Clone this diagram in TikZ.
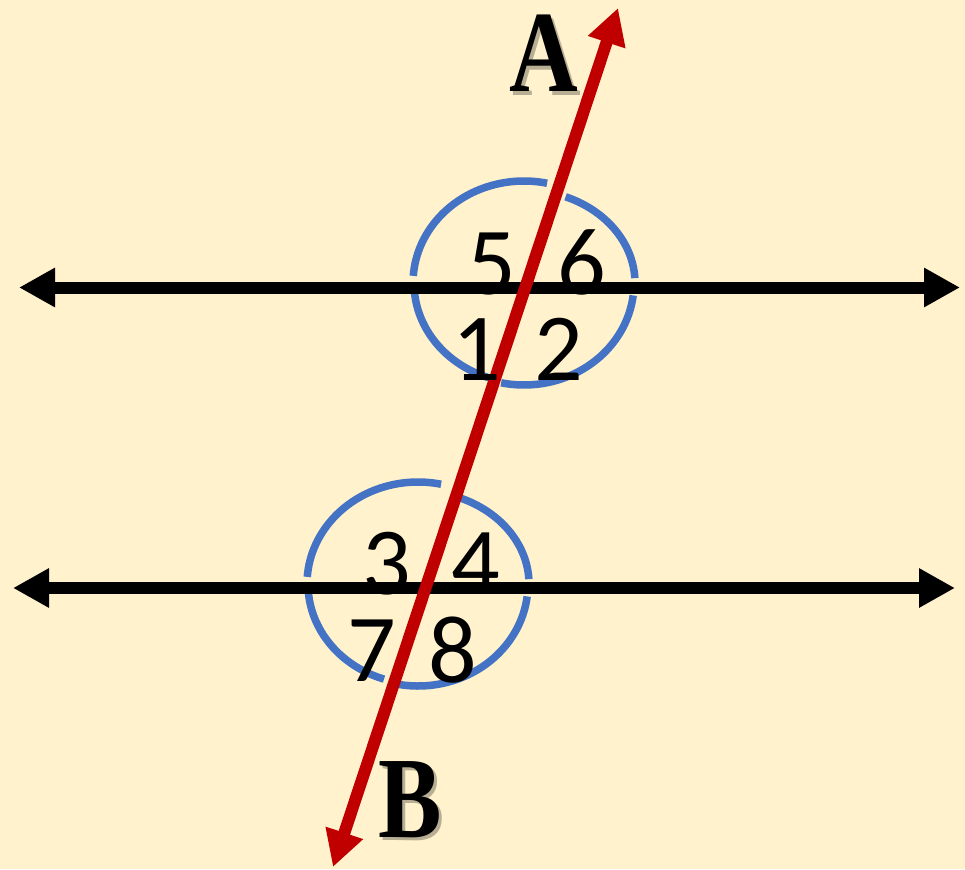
\documentclass[tikz,border=0pt]{standalone}
\usepackage{fontspec}
\usetikzlibrary{arrows.meta}
\newfontfamily\digitfont{Carlito}
\newfontfamily\letterfont{Liberation Serif}
\definecolor{bgyellow}{HTML}{FFF2CC}
\definecolor{arcblue}{HTML}{4472C4}
\definecolor{transred}{HTML}{C00000}
\colorlet{shadowgray}{black!28!bgyellow}
\newcommand\shadowed[1]{\makebox[0pt][l]{\kern3.5pt\raisebox{-3.5pt}{\textcolor{shadowgray}{#1}}}#1}
\tikzset{
  dblarrow/.style={line width=12pt,{Triangle[length=36pt,width=37pt]}-{Triangle[length=36pt,width=37pt]}},
  parline/.style={dblarrow,draw=black},
  transline/.style={dblarrow,draw=transred},
  anglearc/.style={draw=arcblue,line width=7.5pt},
  digit/.style={anchor=base,inner sep=0pt,font=\digitfont\fontsize{96}{96}\selectfont},
  bigletter/.style={anchor=base,inner sep=0pt,xscale=0.82,font=\letterfont\bfseries\fontsize{116}{116}\selectfont}
}
\begin{document}
\begin{tikzpicture}[x=1pt,y=1pt]
\fill[bgyellow] (0,0) rectangle (965,-869);
\useasboundingbox (0,0) rectangle (965,-869);
% centres of the angle marks
\coordinate (c1) at (524,-283);
\coordinate (c2) at (418,-584);
% angle arcs
\foreach \c in {c1,c2}{
  \begin{scope}[shift={(\c)}]
    \draw[anglearc] (78:111 and 102) arc[start angle=78,end angle=176,x radius=111,y radius=102];
    \draw[anglearc] (3:111 and 93) arc[start angle=3,end angle=68,x radius=111,y radius=93];
    \draw[anglearc] (182:110 and 100) arc[start angle=182,end angle=252,x radius=110,y radius=100];
    \draw[anglearc] (258:110 and 102) arc[start angle=258,end angle=353,x radius=110,y radius=102];
  \end{scope}
}
% parallel lines
\coordinate (u1) at (19,-287.5);
\coordinate (u2) at (960,-287.5);
\coordinate (l1) at (13,-588);
\coordinate (l2) at (955,-588);
\draw[parline] (u1) -- (u2);
\draw[parline] (l1) -- (l2);
% transversal
\coordinate (tb) at (333,-867);
\coordinate (ta) at (618,-8);
\draw[transline] (tb) -- (ta);
% angle numbers
\node[digit] (n5) at (492,-294) {5};
\node[digit] (n6) at (582,-294) {6};
\node[digit] (n1) at (477,-380) {1};
\node[digit] (n2) at (559,-380) {2};
\node[digit] (n3) at (387,-594) {3};
\node[digit] (n4) at (476,-594) {4};
\node[digit] (n7) at (372,-681) {7};
\node[digit] (n8) at (453,-682) {8};
% letters with shadow
\node[bigletter] (la) at (544,-92) {\shadowed{A}};
\node[bigletter] (lb) at (410,-837) {\shadowed{B}};
\end{tikzpicture}
\end{document}
